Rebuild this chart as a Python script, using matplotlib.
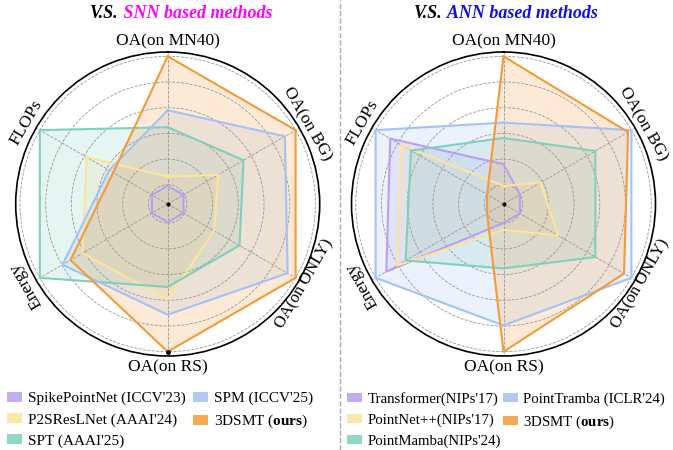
import numpy as np
import matplotlib
matplotlib.use("Agg")
import matplotlib.pyplot as plt
from matplotlib.patches import Patch
from matplotlib.lines import Line2D

plt.rcParams['font.family'] = ['Liberation Serif', 'DejaVu Serif']
plt.rcParams['mathtext.fontset'] = 'custom'
plt.rcParams['mathtext.bf'] = 'Liberation Serif:bold'
plt.rcParams['mathtext.rm'] = 'Liberation Serif'

# axes (clockwise from top)
axisNames = ["OA(on MN40)", "OA(on BG)", "OA(on ONLY)", "OA(on RS)", "Energy", "FLOPs"]
labelRot = [0, -60, 60, 0, 120, 60]
labelR = [1.10, 1.085, 1.07, 1.10, 1.10, 1.10]
labelSize = [12.5, 12.5, 12, 12.5, 12.5, 12.5]

# normalised scores
snnNames = ["SpikePointNet (ICCV'23)", "P2SResLNet (AAAI'24)", "SPT (AAAI'25)",
            "SPM (ICCV'25)", r"3DSMT ($\mathbf{ours}$)"]
snnSpikePointNet = [0.16, 0.16, 0.16, 0.16, 0.16, 0.16]
snnP2SResLNet = [0.22, 0.42, 0.39, 0.66, 0.68, 0.65]
snnSPT = [0.54, 0.61, 0.58, 0.58, 1.0, 1.0]
snnSPM = [0.65, 0.92, 0.94, 0.76, 0.83, 0.48]
snnOurs = [1.0, 1.0, 1.0, 1.0, 0.77, 0.45]

annNames = ["Transformer(NIPs'17)", "PointNet++(NIPs'17)", "PointMamba(NIPs'24)",
            "PointTramba (ICLR'24)", r"3DSMT ($\mathbf{ours}$)"]
annTransformer = [0.30, 0.165, 0.165, 0.165, 0.92, 0.89]
annPointNetPP = [0.16, 0.32, 0.45, 0.21, 0.84, 0.81]
annPointMamba = [0.47, 0.73, 0.73, 0.46, 0.775, 0.735]
annPointTramba = [0.57, 1.0, 1.0, 0.83, 1.0, 1.0]
annOurs = [1.0, 0.975, 0.945, 1.0, 0.165, 0.165]

colors = ["#b99ff2", "#fbe59a", "#7fd0bc", "#a3c2f7", "#f59a36"]

rMin, rMax = 0.042, 1.028
angles = np.linspace(0, 2 * np.pi, len(axisNames), endpoint=False)

fig = plt.figure(figsize=(6.73, 4.5), dpi=100)


def drawRadar(rect, series, bottomDot=False):
    ax = fig.add_axes(rect, projection='polar')
    ax.set_theta_offset(np.pi / 2)
    ax.set_theta_direction(-1)
    ax.set_ylim(rMin, rMax)
    ax.set_yticks([k / 6 for k in range(1, 7)])
    ax.set_yticklabels([])
    ax.set_xticks(angles)
    ax.set_xticklabels([])
    ax.grid(True, ls='--', color='#999999', lw=0.6)
    ax.spines['polar'].set_color('black')
    ax.spines['polar'].set_linewidth(1.2)
    ax.set_facecolor('none')

    for vals, col in zip(series, colors):
        th = np.append(angles, angles[0])
        rr = np.append(vals, vals[0])
        ax.fill(th, rr, color=col, alpha=0.2, lw=0)
        ax.plot(th, rr, color=col, lw=1.5)

    for a, name, rot, r, fs in zip(angles, axisNames, labelRot, labelR, labelSize):
        ax.text(a, r, name, rotation=rot, ha='center', va='center',
                fontsize=fs, rotation_mode='anchor', clip_on=False)

    ax.plot([0], [rMin], 'k.', ms=4)
    if bottomDot:
        ax.plot([angles[3]], [1.0], 'k.', ms=5, clip_on=False)
    return ax


w = 304 / 673
h = 304 / 450
axL = drawRadar([(167.7 - 152) / 673, (450 - 204 - 152) / 450, w, h],
                [snnSpikePointNet, snnP2SResLNet, snnSPT, snnSPM, snnOurs], bottomDot=True)
axR = drawRadar([(503.5 - 152) / 673, (450 - 204 - 152) / 450, w, h],
                [annTransformer, annPointNetPP, annPointMamba, annPointTramba, annOurs])

# titles with two colours
t1 = fig.text(90 / 673, 1 - 14 / 450, "V.S.", fontsize=13, fontweight='bold', style='italic',
              va='center', ha='left')
t2 = plt.annotate(" SNN based methods", xycoords=t1, xy=(1, 0), va='bottom', ha='left',
                  fontsize=13, fontweight='bold', style='italic', color='#ff00ff')
t3 = fig.text(414 / 673, 1 - 14 / 450, "V.S.", fontsize=13, fontweight='bold', style='italic',
              va='center', ha='left')
t4 = plt.annotate(" ANN based methods", xycoords=t3, xy=(1, 0), va='bottom', ha='left',
                  fontsize=13, fontweight='bold', style='italic', color='#1010ee')

# legends
def makeLegend(names, x, colSpace, fs):
    handles = [Patch(facecolor=c, edgecolor='none', alpha=0.85) for c in colors]
    leg = fig.legend(handles, names, ncol=2, loc='upper left',
                     bbox_to_anchor=(x / 673, 1 - 392 / 450), frameon=False,
                     fontsize=fs, handlelength=1.0, handleheight=0.6,
                     handletextpad=0.4, columnspacing=colSpace, labelspacing=0.5,
                     borderpad=0, borderaxespad=0)
    return leg

makeLegend(snnNames, 7, 0.45, 11)
makeLegend(annNames, 347, 0.1, 10.7)

# separator
fig.add_artist(Line2D([340 / 673, 340 / 673], [0, 1], transform=fig.transFigure,
                      ls='--', color='#aaaaaa', lw=1.0))

fig.savefig("out.png", dpi=100)
